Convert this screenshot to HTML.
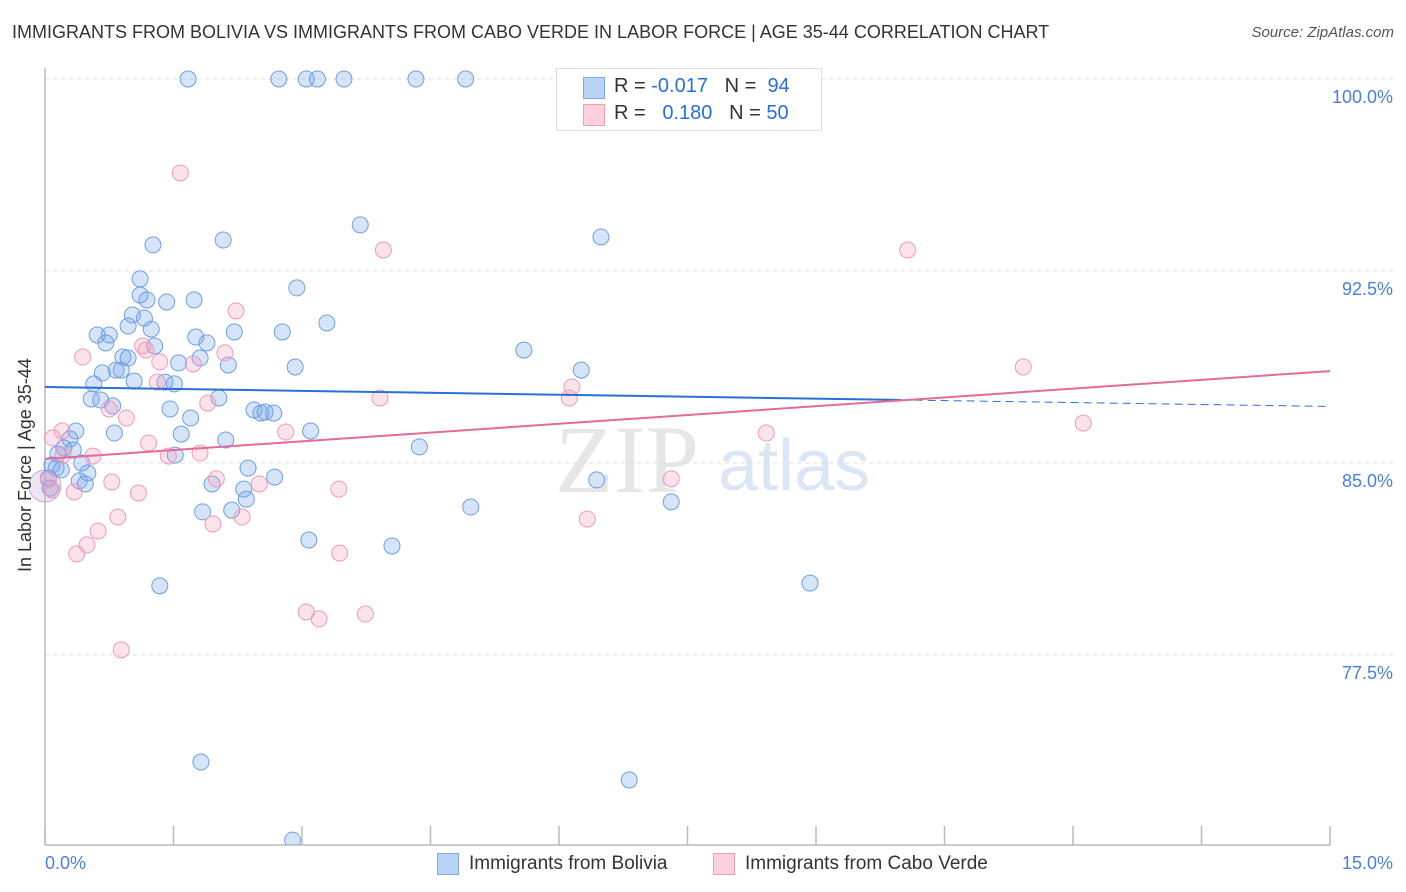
<!DOCTYPE html>
<html><head><meta charset="utf-8"><style>
body{margin:0;background:#fff;font-family:"Liberation Sans",sans-serif;}
#wrap{position:relative;width:1406px;height:892px;overflow:hidden;}
.t{position:absolute;white-space:nowrap;}
</style></head><body>
<div id="wrap">
<div class="t" style="left:12px;top:22px;font-size:18px;color:#333;">IMMIGRANTS FROM BOLIVIA VS IMMIGRANTS FROM CABO VERDE IN LABOR FORCE | AGE 35-44 CORRELATION CHART</div>
<div class="t" style="right:12px;top:24px;font-size:15px;color:#555;font-style:italic;">Source: ZipAtlas.com</div>
<svg id="svg" width="1406" height="892" style="position:absolute;left:0;top:0"></svg>
</div>
<script>
const xTicks=[0,1.5,3,4.5,6,7.5,9,10.5,12,13.5,15];
const yTicks=[100,92.5,85,77.5];
const yTickLabels=["100.0%","92.5%","85.0%","77.5%"];
const boliviaX=[1.67,2.73,3.05,3.18,3.49,4.33,4.91,3.68,6.49,1.26,2.08,1.11,2.94,1.11,1.19,1.42,1.74,1.02,1.16,0.97,1.24,0.61,0.75,3.29,2.77,2.21,1.76,1.89,0.71,1.28,5.59,0.91,0.97,1.81,2.14,1.56,2.92,0.83,0.89,0.67,6.26,1.04,1.40,1.51,0.57,0.54,0.65,0.79,2.03,1.46,1.70,2.44,2.57,2.67,2.52,3.10,0.36,0.81,1.59,0.29,2.11,4.37,0.22,0.33,0.15,1.52,0.43,0.13,0.50,0.19,0.40,0.47,2.37,2.68,1.95,2.32,6.44,2.35,7.31,4.97,1.84,2.18,3.08,4.05,1.34,8.93,1.82,6.82,2.89,0.06,0.08,0.04];
const boliviaY=[100,100,100,100,100,100,100,94.30,93.83,93.52,93.71,92.19,91.84,91.56,91.37,91.29,91.37,90.78,90.66,90.35,90.23,90.0,90.0,90.47,90.12,90.12,89.92,89.69,89.69,89.57,89.41,89.14,89.10,89.10,88.83,88.91,88.75,88.63,88.63,88.52,88.63,88.20,88.16,88.09,88.09,87.50,87.46,87.23,87.54,87.11,86.76,87.07,86.99,86.95,86.95,86.25,86.25,86.17,86.13,85.94,85.90,85.63,85.59,85.51,85.35,85.31,85.0,84.80,84.61,84.73,84.30,84.18,84.80,84.45,84.18,83.98,84.34,83.59,83.48,83.28,83.09,83.16,81.99,81.76,80.20,80.31,73.32,72.62,70.27,84.02,84.92,84.41];
const caboX=[1.58,10.07,3.95,2.23,0.44,2.10,1.14,1.18,1.34,1.73,11.42,1.31,6.15,6.12,3.91,1.90,0.75,0.95,12.12,0.20,2.81,0.09,8.42,1.21,1.44,1.81,0.56,0.21,2.00,7.31,0.78,2.50,1.09,0.34,3.43,0.85,2.30,0.62,6.33,1.96,0.49,0.37,3.44,3.05,3.20,3.74,0.89,0.04,0.08];
const caboY=[96.33,93.32,93.32,90.94,89.14,89.30,89.57,89.41,88.95,88.87,88.75,88.16,87.97,87.54,87.54,87.34,87.11,86.76,86.56,86.25,86.21,85.98,86.17,85.78,85.27,85.39,85.27,85.31,84.38,84.38,84.26,84.18,83.83,83.87,83.98,82.89,82.89,82.34,82.81,82.62,81.80,81.45,81.48,79.18,78.91,79.10,77.70,84.34,83.95];
const boliviaTrend=[87.97,-0.0507]; // intercept, slope
const boliviaSolidEnd=[10];
const caboTrend=[85.16,0.2287];

const X0=45,X1=1330,Y100=79,PXY=25.6;
const sx=v=>X0+(v/15)*(X1-X0);
const sy=v=>Y100+(100-v)*PXY;
const svg=document.getElementById('svg');
const NS='http://www.w3.org/2000/svg';
function mk(tag,attrs,parent){const e=document.createElementNS(NS,tag);for(const k in attrs)e.setAttribute(k,attrs[k]);(parent||svg).appendChild(e);return e;}

// watermark
let wm=mk('text',{x:555,y:492,'font-size':96,'font-family':'Liberation Serif, serif',fill:'#e6e6e6'});wm.textContent='ZIP';


let wm2=mk('text',{x:718,y:490,'font-size':72,'font-family':'Liberation Sans, sans-serif',fill:'#dbe6f5'});wm2.textContent='atlas';



yTicks.forEach((v,i)=>{
  const g=mk('line',{x1:X0,x2:1393,y1:sy(v),y2:sy(v),stroke:'#ddd','stroke-dasharray':'4,4'});
  
  
  const t=mk('text',{x:1393,y:sy(v)+24,'text-anchor':'end','font-size':18,fill:'#4a7fd8','font-family':'Liberation Sans, sans-serif'});
  t.textContent=yTickLabels[i];
  
  
});
let ax=mk('line',{x1:X0,x2:X1,y1:845,y2:845,stroke:'#bbb','stroke-width':1.5});


let ay=mk('line',{x1:X0,x2:X0,y1:68,y2:845,stroke:'#bbb','stroke-width':1.5});


xTicks.forEach(v=>{
  const l=mk('line',{x1:sx(v),x2:sx(v),y1:826,y2:845,stroke:'#bbb','stroke-width':1.5});
  
  
});
const clip=mk('clipPath',{id:'pc'});mk('rect',{x:0,y:0,width:1406,height:845},clip);
const pts=mk('g',{'clip-path':'url(#pc)'});
function dot(x,y,fill,stroke,name){
  const c=mk('circle',{cx:sx(x),cy:sy(y),r:8,fill:fill,stroke:stroke,'stroke-width':1},pts);
  
  
}
mk('circle',{cx:45,cy:486,r:16,fill:'rgba(190,170,220,0.3)',stroke:'#c0a8dc'},pts);
boliviaX.forEach((x,i)=>dot(x,boliviaY[i],'rgba(120,165,235,0.3)','#6f9ee3','bolivia-point'));
caboX.forEach((x,i)=>dot(x,caboY[i],'rgba(245,160,190,0.3)','#ec9bb8','cabo-verde-point'));
const bf=v=>boliviaTrend[0]+boliviaTrend[1]*v;
let bl=mk('line',{x1:sx(0),y1:sy(bf(0)),x2:sx(boliviaSolidEnd[0]),y2:sy(bf(boliviaSolidEnd[0])),stroke:'#2a6fd6','stroke-width':2});


let bd=mk('line',{x1:sx(boliviaSolidEnd[0]),y1:sy(bf(boliviaSolidEnd[0])),x2:sx(15),y2:sy(bf(15)),stroke:'#2a6fd6','stroke-width':1,'stroke-dasharray':'8,5'});


const cf=v=>caboTrend[0]+caboTrend[1]*v;
let cl=mk('line',{x1:sx(0),y1:sy(cf(0)),x2:sx(15),y2:sy(cf(15)),stroke:'#e36b98','stroke-width':2});


</script>
<div class="t" style="left:15px;top:572px;transform:rotate(-90deg);transform-origin:0 0;font-size:18px;color:#333;">In Labor Force | Age 35-44</div>
<div class="t" style="left:45px;top:853px;font-size:18px;color:#4a7fd8;">0.0%</div>
<div class="t" style="right:13px;top:853px;font-size:18px;color:#4a7fd8;">15.0%</div>
<div style="position:absolute;left:556px;top:68px;width:264px;height:61px;border:1px solid #ddd;background:#fff;font-size:20px;">
 <div style="position:absolute;left:26px;top:8px;width:20px;height:20px;background:#b9d3f5;border:1px solid #7ea8e6"></div>
 <div class="t" style="left:57px;top:6px;color:#333">R = <span style="color:#2a6fd6">-0.017</span>&nbsp;&nbsp;&nbsp;N = &nbsp;<span style="color:#2a6fd6">94</span></div>
 <div style="position:absolute;left:26px;top:35px;width:20px;height:20px;background:#fcd0dd;border:1px solid #ef9ebb"></div>
 <div class="t" style="left:57px;top:33px;color:#333">R = &nbsp;&nbsp;<span style="color:#2a6fd6">0.180</span>&nbsp;&nbsp;&nbsp;N = <span style="color:#2a6fd6">50</span></div>
</div>
<div style="position:absolute;left:437px;top:853px;width:20px;height:20px;background:#b9d3f5;border:1px solid #7ea8e6"></div>
<div class="t" style="left:469px;top:853px;font-size:19px;color:#333">Immigrants from Bolivia</div>
<div style="position:absolute;left:713px;top:853px;width:20px;height:20px;background:#fcd0dd;border:1px solid #ef9ebb"></div>
<div class="t" style="left:745px;top:853px;font-size:19px;color:#333">Immigrants from Cabo Verde</div>
</body></html>
